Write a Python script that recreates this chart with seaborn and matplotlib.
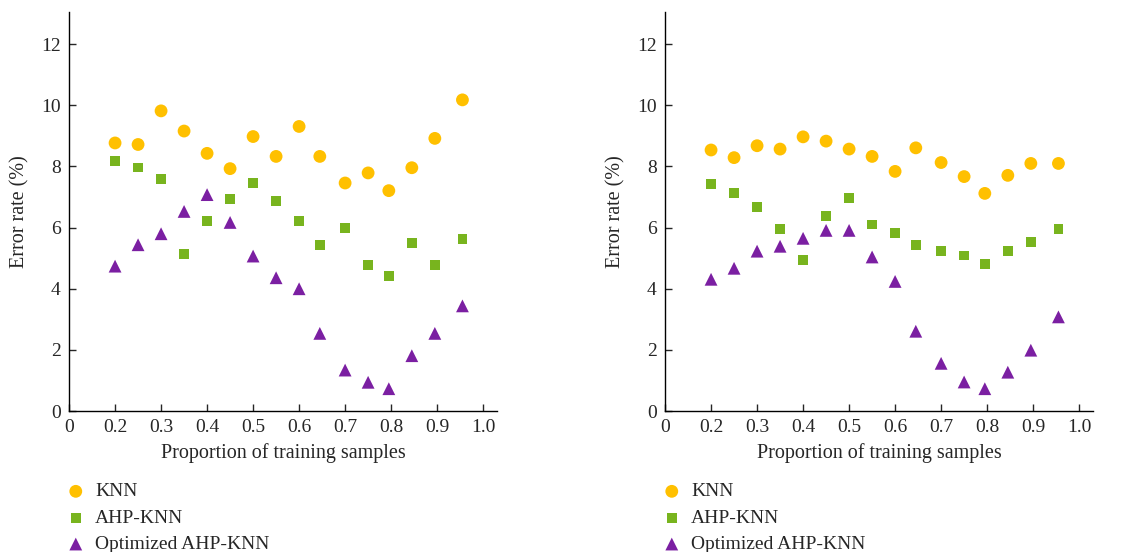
import pandas as pd
import numpy as np
import matplotlib.pyplot as plt
import seaborn as sns

sns.set_style("white")
plt.rcParams["font.family"] = ["Liberation Serif", "DejaVu Serif"]

# DATA
# ====================================
proportion = [0.2, 0.25, 0.3, 0.35, 0.4, 0.45, 0.5, 0.55,
              0.6, 0.645, 0.7, 0.75, 0.795, 0.845, 0.895, 0.955]

knn_a = [8.77, 8.72, 9.82, 9.16, 8.43, 7.93, 8.98, 8.33,
         9.31, 8.33, 7.46, 7.79, 7.21, 7.96, 8.92, 10.18]
ahp_a = [8.19, 7.97, 7.59, 5.13, 6.22, 6.95, 7.45, 6.87,
         6.22, 5.42, 6.00, 4.77, 4.41, 5.49, 4.77, 5.64]
opt_a = [4.74, 5.44, 5.80, 6.53, 7.08, 6.17, 5.07, 4.36,
         4.00, 2.54, 1.34, 0.94, 0.73, 1.81, 2.54, 3.44]

knn_b = [8.54, 8.29, 8.68, 8.57, 8.97, 8.83, 8.57, 8.33,
         7.84, 8.61, 8.13, 7.67, 7.12, 7.71, 8.10, 8.10]
ahp_b = [7.42, 7.12, 6.68, 5.96, 4.94, 6.39, 6.97, 6.10,
         5.82, 5.42, 5.24, 5.09, 4.80, 5.24, 5.52, 5.96]
opt_b = [4.31, 4.67, 5.23, 5.39, 5.65, 5.91, 5.91, 5.04,
         4.24, 2.61, 1.56, 0.95, 0.73, 1.27, 1.99, 3.08]

methods = ["KNN", "AHP-KNN", "Optimized AHP-KNN"]
x_ticks = [0.1, 0.2, 0.3, 0.4, 0.5, 0.6, 0.7, 0.8, 0.9, 1.0]
x_tick_labels = ["0", "0.2", "0.3", "0.4", "0.5", "0.6", "0.7", "0.8", "0.9", "1.0"]
y_ticks = [0, 2, 4, 6, 8, 10, 12]

# STYLE
# ====================================
colors = {"KNN": "#FFC000", "AHP-KNN": "#78B41E", "Optimized AHP-KNN": "#7B1FA2"}
markers = {"KNN": "o", "AHP-KNN": "s", "Optimized AHP-KNN": "^"}
sizes = {"KNN": 85, "AHP-KNN": 50, "Optimized AHP-KNN": 85}

fig = plt.figure(figsize=(11.32, 5.52), dpi=100)
ax1 = fig.add_axes([0.061, 0.2554, 0.378, 0.7226])
ax2 = fig.add_axes([0.5875, 0.2554, 0.378, 0.7226])

panels = [(ax1, [knn_a, ahp_a, opt_a]), (ax2, [knn_b, ahp_b, opt_b])]

for ax, series in panels:
    for name, vals in zip(methods, series):
        sns.scatterplot(x=proportion, y=vals, ax=ax, color=colors[name],
                        marker=markers[name], s=sizes[name],
                        edgecolor="none", label=name)
    ax.set_xlim(0.1, 1.03)
    ax.set_ylim(0, 13.05)
    ax.set_xticks(x_ticks)
    ax.set_xticklabels(x_tick_labels)
    ax.set_yticks(y_ticks)
    ax.tick_params(direction="in", length=5, width=1, labelsize=14,
                   bottom=True, left=True, pad=6)
    for s in ["top", "right"]:
        ax.spines[s].set_visible(False)
    for s in ["left", "bottom"]:
        ax.spines[s].set_color("black")
        ax.spines[s].set_linewidth(1)
    ax.set_xlabel("Proportion of training samples", fontsize=14.5, labelpad=5)
    ax.set_ylabel("Error rate (%)", fontsize=14.5, labelpad=8)
    ax.legend(loc="upper left", bbox_to_anchor=(-0.007, -0.18), frameon=False,
              fontsize=14, handlelength=1.0, handletextpad=0.5,
              labelspacing=0.45, borderaxespad=0, borderpad=0,
              markerscale=1.0)

fig.savefig("out.png", dpi=100)
